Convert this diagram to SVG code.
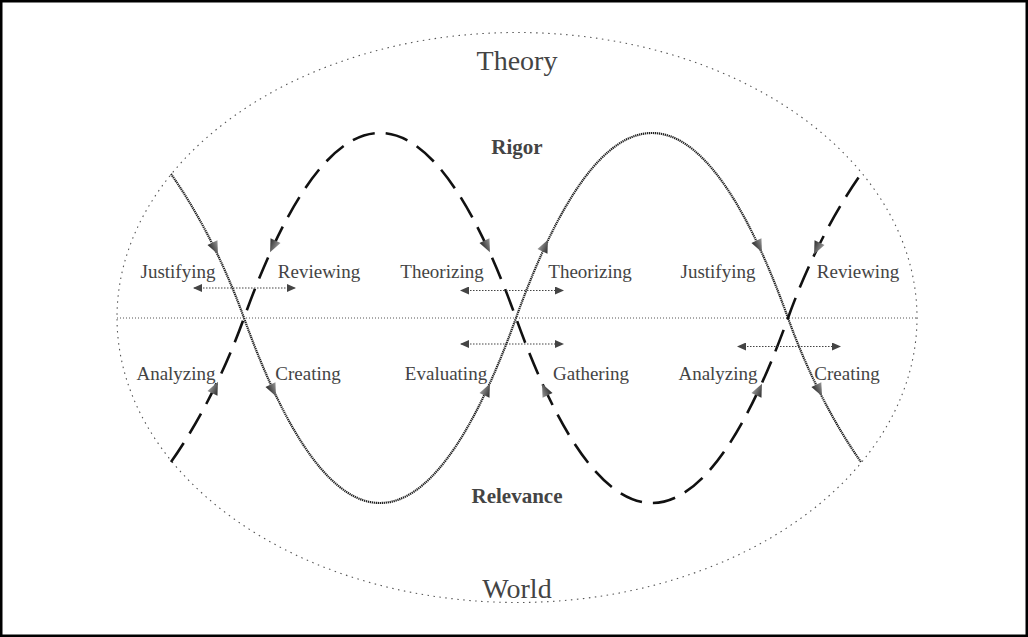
<svg xmlns="http://www.w3.org/2000/svg" width="1028" height="637" viewBox="0 0 1028 637">
<style>
.lbl{font-family:"Liberation Serif","Times New Roman",serif;font-size:19px;fill:#444;text-anchor:middle}
.big{font-family:"Liberation Serif","Times New Roman",serif;font-size:28px;fill:#444;text-anchor:middle}
.bold{font-family:"Liberation Serif","Times New Roman",serif;font-size:21px;font-weight:bold;fill:#444;text-anchor:middle}
.dotc{fill:none;stroke:#222;stroke-width:2.2;stroke-dasharray:1.3 0.7}
.dash{fill:none;stroke:#111;stroke-width:2.6;stroke-dasharray:23 11}
.dbl{fill:none;stroke:#444;stroke-width:1.2;stroke-dasharray:1.5 1.5;marker-start:url(#ms);marker-end:url(#me)}
</style>
<defs>
<linearGradient id="ag" x1="0" y1="0" x2="0" y2="1">
<stop offset="0" stop-color="#999"/>
<stop offset="1" stop-color="#2a2a2a"/>
</linearGradient>
<path id="ah" d="M7,0 L-6,-5.5 L-6,5.5 Z" fill="url(#ag)"/>
<marker id="me" markerWidth="10" markerHeight="8" refX="8" refY="4" orient="auto" markerUnits="userSpaceOnUse">
<path d="M0,0 L9,4 L0,8 Z" fill="#444"/>
</marker>
<marker id="ms" markerWidth="10" markerHeight="8" refX="1" refY="4" orient="auto" markerUnits="userSpaceOnUse">
<path d="M9,0 L0,4 L9,8 Z" fill="#444"/>
</marker>
</defs>
<rect x="1.25" y="1.25" width="1025.5" height="634.5" fill="#fff" stroke="#000" stroke-width="2.5"/>
<g id="frame">
<ellipse cx="517" cy="317.5" rx="400" ry="285" fill="none" stroke="#555" stroke-width="1.1" stroke-dasharray="1.5 4.5"/>
<line x1="117" y1="318" x2="917" y2="318" stroke="#555" stroke-width="1" stroke-dasharray="1 2"/>
</g>
<g id="connectors">
<path id="dotted-wave" class="dotc" d="M171,174 C195,208 222,257 244,318 C289,443 335,503 380,503 C425,503 471,443 516,318 C561,193 607,133 652,133 C697,133 743,193 788,318 C810,379 837,428 861,462"/>
<path id="dashed-wave" class="dash" d="M171,462 C195,428 222,379 244,318 C289,193 335,133 380,133 C425,133 471,193 516,318 C561,443 607,503 652,503 C697,503 743,443 788,318 C810,257 837,208 861,174"/>
<g id="arrowheads">
<use href="#ah" transform="translate(215,248) rotate(65)"/>
<use href="#ah" transform="translate(273,390) rotate(65)"/>
<use href="#ah" transform="translate(487,390) rotate(-65)"/>
<use href="#ah" transform="translate(545,246) rotate(-65)"/>
<use href="#ah" transform="translate(759,246) rotate(65)"/>
<use href="#ah" transform="translate(819,390) rotate(64)"/>
<use href="#ah" transform="translate(273,246) rotate(115)"/>
<use href="#ah" transform="translate(215,388) rotate(-65)"/>
<use href="#ah" transform="translate(487,246) rotate(65)"/>
<use href="#ah" transform="translate(545,390) rotate(-115)"/>
<use href="#ah" transform="translate(817,248) rotate(115)"/>
<use href="#ah" transform="translate(759,390) rotate(-65)"/>
</g>
<line class="dbl" x1="194" y1="288" x2="295" y2="288"/>
<line class="dbl" x1="461" y1="290.5" x2="563" y2="290.5"/>
<line class="dbl" x1="461" y1="344" x2="563" y2="344"/>
<line class="dbl" x1="738" y1="346.5" x2="840" y2="346.5"/>
</g>
<g id="theory"><text class="big" x="517" y="70">Theory</text></g>
<g id="world"><text class="big" x="517" y="598">World</text></g>
<g id="rigor"><text class="bold" x="517" y="154">Rigor</text></g>
<g id="relevance"><text class="bold" x="517" y="503">Relevance</text></g>
<g id="justifying-1"><text class="lbl" x="178" y="278">Justifying</text></g>
<g id="reviewing-1"><text class="lbl" x="319" y="278">Reviewing</text></g>
<g id="theorizing-1"><text class="lbl" x="442" y="278">Theorizing</text></g>
<g id="theorizing-2"><text class="lbl" x="590" y="278">Theorizing</text></g>
<g id="justifying-2"><text class="lbl" x="718" y="278">Justifying</text></g>
<g id="reviewing-2"><text class="lbl" x="858" y="278">Reviewing</text></g>
<g id="analyzing-1"><text class="lbl" x="176" y="380">Analyzing</text></g>
<g id="creating-1"><text class="lbl" x="308" y="380">Creating</text></g>
<g id="evaluating"><text class="lbl" x="446" y="380">Evaluating</text></g>
<g id="gathering"><text class="lbl" x="591" y="380">Gathering</text></g>
<g id="analyzing-2"><text class="lbl" x="718" y="380">Analyzing</text></g>
<g id="creating-2"><text class="lbl" x="847" y="380">Creating</text></g>
</svg>
